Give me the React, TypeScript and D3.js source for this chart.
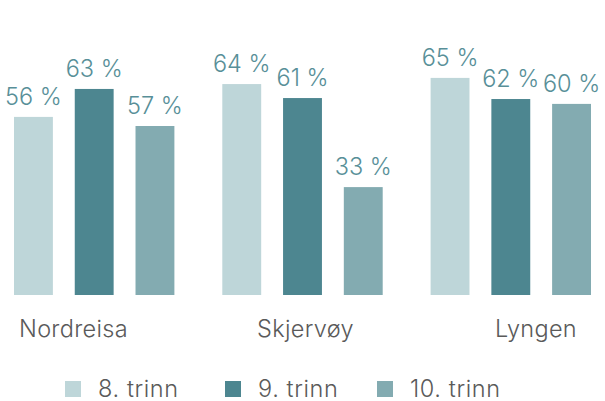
import React from "react";
import * as d3 from "d3";

const categories = ["Nordreisa", "Skjervøy", "Lyngen"];
const seriesNames = ["8. trinn", "9. trinn", "10. trinn"];
// bar heights (percent)
const trinn8 = [54.8, 64.9, 66.8];
const trinn9 = [63.4, 60.6, 60.3];
const trinn10 = [52.0, 33.2, 58.8];
// value labels as printed
const labels8 = ["56 %", "64 %", "65 %"];
const labels9 = ["63 %", "61 %", "62 %"];
const labels10 = ["57 %", "33 %", "60 %"];

const colors = ["#bed6d9", "#4d8690", "#83abb1"];
const labelColor = "#588f98";
const textColor = "#5a5a5a";
const FONT = "Inter, 'Open Sans', sans-serif";

export default function App() {
  const W = 605;
  const H = 401;
  const series = [trinn8, trinn9, trinn10];
  const seriesLabels = [labels8, labels9, labels10];

  const x0 = d3.scaleBand<string>().domain(categories).range([14, 591]).paddingInner(0.23).paddingOuter(0);
  const x1 = d3
    .scaleBand<string>()
    .domain(seriesNames)
    .range([0, x0.bandwidth()])
    .paddingInner(0.36)
    .paddingOuter(0);
  const y = d3.scaleLinear().domain([0, 70]).range([295, 295 - 70 * 3.25]);

  const anchors = ["start", "middle", "end"];
  const catX = (c: string, i: number) => {
    const s = x0(c)!;
    if (i === 0) return s + 5;
    if (i === categories.length - 1) return s + x0.bandwidth() - 14;
    return s + x0.bandwidth() / 2 + 3;
  };

  const legendX = [65, 225, 377];
  const fs = 23.5;

  return (
    <svg
      width={W}
      height={H}
      style={{ position: "fixed", left: 0, top: 0, background: "#fff" }}
      fontFamily={FONT}
    >
      {categories.map((c, ci) => (
        <g key={c} transform={`translate(${x0(c)},0)`}>
          {seriesNames.map((s, si) => {
            const v = series[si][ci];
            const bx = x1(s)!;
            const bw = x1.bandwidth();
            return (
              <g key={s}>
                <rect x={bx} y={y(v)} width={bw} height={y(0) - y(v)} fill={colors[si]} />
                <text
                  x={bx + bw / 2}
                  y={y(v) - 12}
                  textAnchor="middle"
                  fontSize={fs}
                  fontWeight={300}
                  fill={labelColor}
                >
                  {seriesLabels[si][ci]}
                </text>
              </g>
            );
          })}
        </g>
      ))}
      {categories.map((c, ci) => (
        <text
          key={c}
          x={catX(c, ci)}
          y={337}
          textAnchor={anchors[ci] as any}
          fontSize={fs}
          fontWeight={300}
          letterSpacing={0.3}
          fill={textColor}
        >
          {c}
        </text>
      ))}
      {seriesNames.map((s, si) => (
        <g key={s} transform={`translate(${legendX[si]},381)`}>
          <rect x={0} y={0} width={16} height={16} fill={colors[si]} />
          <text x={33} y={16} fontSize={fs} fontWeight={300} letterSpacing={0.6} fill={textColor}>
            {s}
          </text>
        </g>
      ))}
    </svg>
  );
}
